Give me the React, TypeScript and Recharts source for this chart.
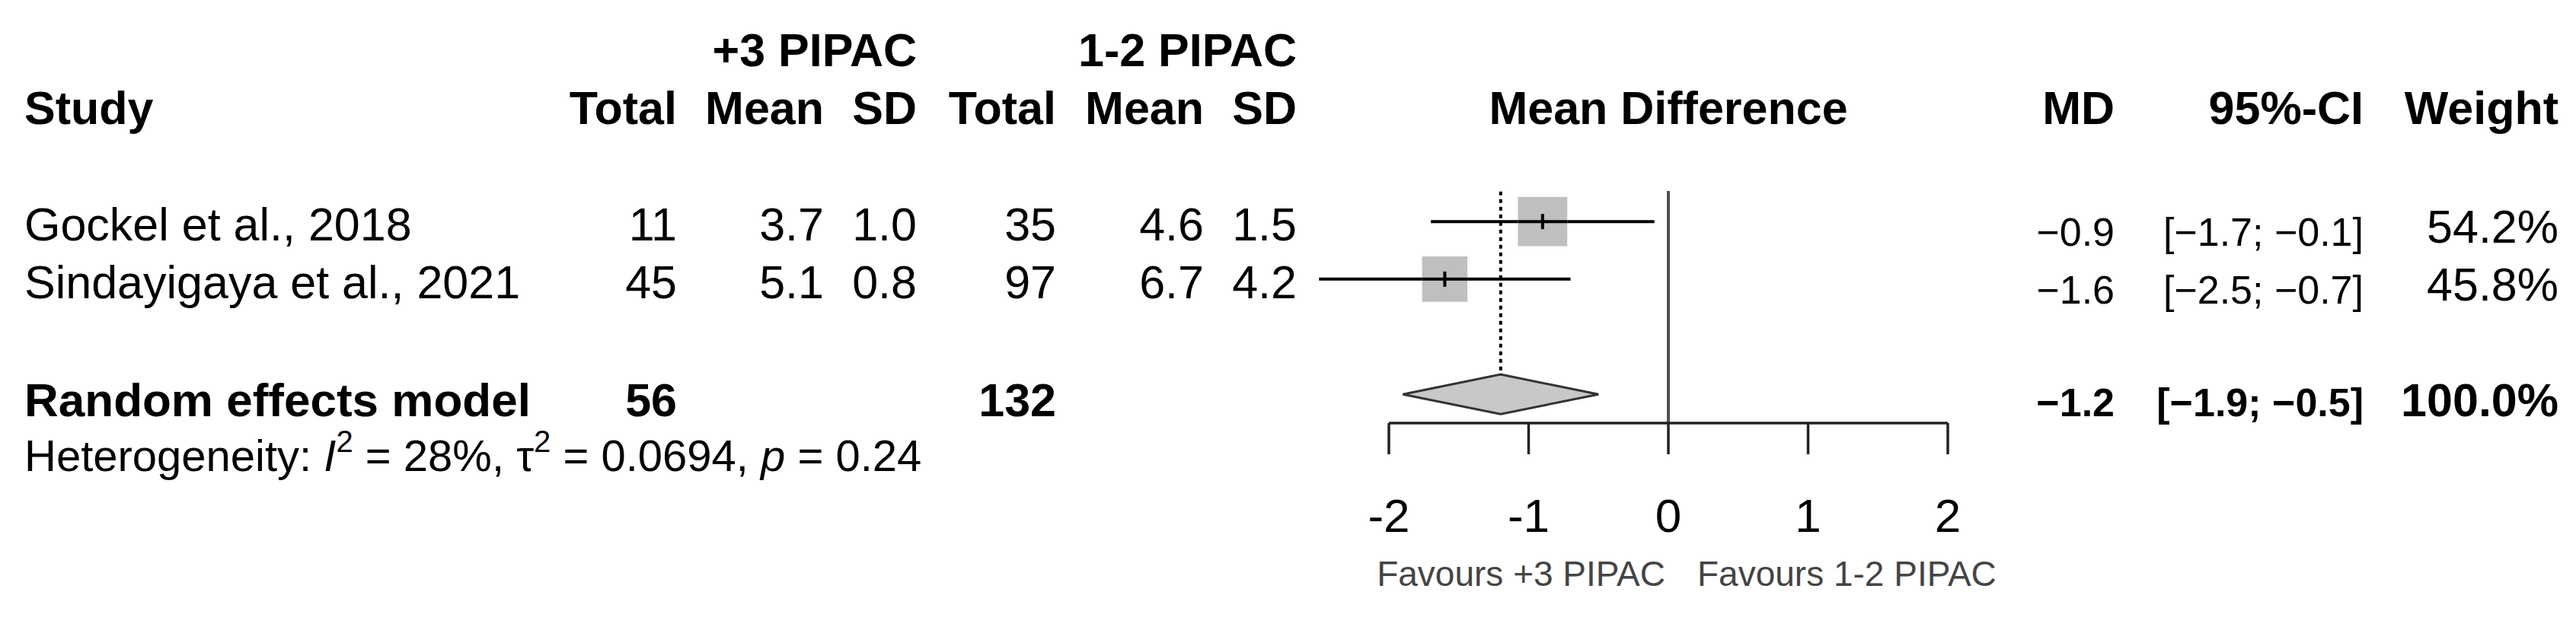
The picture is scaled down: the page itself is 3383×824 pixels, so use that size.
import { ScatterChart, Scatter, XAxis, YAxis, ReferenceLine, ReferenceArea } from "recharts"

// study data
const studies = ["Gockel et al., 2018", "Sindayigaya et al., 2021"]
const expTotal = [11, 45]
const expMean = [3.7, 5.1]
const expSD = [1.0, 0.8]
const ctrlTotal = [35, 97]
const ctrlMean = [4.6, 6.7]
const ctrlSD = [1.5, 4.2]
const md = [-0.9, -1.6]
const ciLow = [-1.7, -2.5]
const ciHigh = [-0.1, -0.7]
const weight = [54.2, 45.8]
const studyRows = [1, 2]

// random effects model
const pooledLabel = "Random effects model"
const pooledTotals = [56, 132]
const pooledMd = -1.2
const pooledCi = [-1.9, -0.5]
const pooledWeight = 100.0
const pooledRow = 4
const heterogeneity = { i2: "28%", tau2: "0.0694", p: "0.24" }

const xTicks = [-2, -1, 0, 1, 2]
const groupLabels = ["+3 PIPAC", "1-2 PIPAC"]
const favourLabels = ["Favours +3 PIPAC", "Favours 1-2 PIPAC"]

// layout
const W = 3367
const H = 808
const PLOT_LEFT = 1816
const PLOT_RIGHT = 2550
const PLOT_TOP = 207.5
const PLOT_BOTTOM = 548
const ROW_MAX = 4.5
const ROW_H = (PLOT_BOTTOM - PLOT_TOP) / ROW_MAX
const rowY = (r: number) => PLOT_TOP + r * ROW_H
const xPx = (v: number) => PLOT_LEFT + ((v - xTicks[0]) / (xTicks[4] - xTicks[0])) * (PLOT_RIGHT - PLOT_LEFT)
const FONT = "'Liberation Sans', Arial, Helvetica, sans-serif"
const SQUARE_K = 8.8

const fmt = (v: number) => v.toFixed(1).replace("-", "\u2212")

const scatterData = studies.map((s, i) => ({ name: s, x: md[i], y: studyRows[i], weight: weight[i] }))

function T({ x, y, anchor = "end", size = 61, bold = false, fill = "#000", children }: any) {
  return (
    <text x={x} y={y} textAnchor={anchor} fontSize={size} fontWeight={bold ? 700 : 400} fontFamily={FONT} fill={fill}>
      {children}
    </text>
  )
}

// grey box sized by weight; the CI stroke is repeated across it so it sits on top
function SquareMark(props: any) {
  const { cx, cy, payload } = props
  const s = SQUARE_K * Math.sqrt(payload.weight)
  return (
    <g>
      <rect x={cx - s / 2} y={cy - s / 2} width={s} height={s} fill="#bfbfbf" />
      <line x1={cx - s / 2} x2={cx + s / 2} y1={cy} y2={cy} stroke="#000" strokeWidth={4} />
      <line x1={cx} x2={cx} y1={cy - 10} y2={cy + 10} stroke="#000" strokeWidth={4} />
    </g>
  )
}

function Diamond(props: any) {
  const { x, y, width, height } = props
  const mx = x + (width * (pooledMd - pooledCi[0])) / (pooledCi[1] - pooledCi[0])
  const my = y + height / 2
  return (
    <polygon
      points={`${x},${my} ${mx},${y} ${x + width},${my} ${mx},${y + height}`}
      fill="#c8c8c8"
      stroke="#333"
      strokeWidth={3}
    />
  )
}

function AxisTick(props: any) {
  const { x, y, payload } = props
  return (
    <text x={x} y={y + 102} textAnchor="middle" fontSize={62} fontFamily={FONT} fill="#000">
      {payload.value}
    </text>
  )
}

const COL = {
  study: 24,
  eTotal: 881,
  eMean: 1074,
  eSD: 1196,
  cTotal: 1379,
  cMean: 1573,
  cSD: 1695,
  md: 2769,
  ci: 3096,
  w: 3352,
}

function Table() {
  const hb = rowY(-1) + 23
  return (
    <svg width={W} height={H} style={{ position: "absolute", left: 0, top: 0, pointerEvents: "none" }}>
      <T x={COL.eSD} y={rowY(-2) + 23} bold>{groupLabels[0]}</T>
      <T x={COL.cSD} y={rowY(-2) + 23} bold>{groupLabels[1]}</T>

      <T x={COL.study} y={hb} anchor="start" bold>Study</T>
      <T x={COL.eTotal} y={hb} bold>Total</T>
      <T x={COL.eMean} y={hb} bold>Mean</T>
      <T x={COL.eSD} y={hb} bold>SD</T>
      <T x={COL.cTotal} y={hb} bold>Total</T>
      <T x={COL.cMean} y={hb} bold>Mean</T>
      <T x={COL.cSD} y={hb} bold>SD</T>
      <T x={xPx(0)} y={hb} anchor="middle" bold>Mean Difference</T>
      <T x={COL.md} y={hb} bold>MD</T>
      <T x={COL.ci} y={hb} bold>95%-CI</T>
      <T x={COL.w} y={hb} bold>Weight</T>

      {studies.map((s, i) => {
        const b = rowY(studyRows[i]) + 25
        const rb = rowY(studyRows[i]) + 32
        return (
          <g key={s}>
            <T x={COL.study} y={b} anchor="start">{s}</T>
            <T x={COL.eTotal} y={b}>{expTotal[i]}</T>
            <T x={COL.eMean} y={b}>{expMean[i].toFixed(1)}</T>
            <T x={COL.eSD} y={b}>{expSD[i].toFixed(1)}</T>
            <T x={COL.cTotal} y={b}>{ctrlTotal[i]}</T>
            <T x={COL.cMean} y={b}>{ctrlMean[i].toFixed(1)}</T>
            <T x={COL.cSD} y={b}>{ctrlSD[i].toFixed(1)}</T>
            <T x={COL.md} y={rb} size={52}>{fmt(md[i])}</T>
            <T x={COL.ci} y={rb} size={52}>{`[${fmt(ciLow[i])}; ${fmt(ciHigh[i])}]`}</T>
            <T x={COL.w} y={rb - 4} size={61}>{`${weight[i].toFixed(1)}%`}</T>
          </g>
        )
      })}

      <T x={COL.study} y={rowY(pooledRow) + 29} anchor="start" bold size={62}>{pooledLabel}</T>
      <T x={COL.eTotal} y={rowY(pooledRow) + 29} bold>{pooledTotals[0]}</T>
      <T x={COL.cTotal} y={rowY(pooledRow) + 29} bold>{pooledTotals[1]}</T>
      <T x={COL.md} y={rowY(pooledRow) + 29} bold size={52}>{fmt(pooledMd)}</T>
      <T x={COL.ci} y={rowY(pooledRow) + 29} bold size={52}>{`[${fmt(pooledCi[0])}; ${fmt(pooledCi[1])}]`}</T>
      <T x={COL.w} y={rowY(pooledRow) + 29} bold size={61}>{`${pooledWeight.toFixed(1)}%`}</T>

      <text x={COL.study} y={rowY(5) + 25} fontSize={58} fontFamily={FONT} fill="#000">
        Heterogeneity: <tspan fontStyle="italic">I</tspan>
        <tspan dy={-25} fontSize={40}>2</tspan>
        <tspan dy={25}>{` = ${heterogeneity.i2}, \u03c4`}</tspan>
        <tspan dy={-25} fontSize={40}>2</tspan>
        <tspan dy={25}>{` = ${heterogeneity.tau2}, `}</tspan>
        <tspan fontStyle="italic">p</tspan>
        <tspan>{` = ${heterogeneity.p}`}</tspan>
      </text>

      <T x={xPx(0) - 4} y={762} size={46} fill="#444">{favourLabels[0]}</T>
      <T x={xPx(0) + 38} y={762} anchor="start" size={46} fill="#444">{favourLabels[1]}</T>
    </svg>
  )
}

export default function App() {
  return (
    <div style={{ position: "relative", width: W, height: H }}>
      <ScatterChart
        width={W}
        height={H}
        margin={{ top: PLOT_TOP, right: W - PLOT_RIGHT, bottom: 0, left: PLOT_LEFT }}
      >
        <XAxis
          type="number"
          dataKey="x"
          domain={[xTicks[0], xTicks[4]]}
          ticks={xTicks}
          interval={0}
          allowDataOverflow
          height={H - PLOT_BOTTOM}
          tickSize={41}
          tickMargin={0}
          axisLine={{ stroke: "#222", strokeWidth: 3.5 }}
          tickLine={{ stroke: "#222", strokeWidth: 3.5 }}
          tick={<AxisTick />}
        />
        <YAxis type="number" dataKey="y" domain={[0, ROW_MAX]} reversed allowDataOverflow hide />

        <ReferenceArea
          x1={pooledCi[0]}
          x2={pooledCi[1]}
          y1={pooledRow - 0.345}
          y2={pooledRow + 0.345}
          ifOverflow="visible"
          shape={<Diamond />}
        />
        <ReferenceLine
          segment={[{ x: 0, y: 0.47 }, { x: 0, y: ROW_MAX }]}
          stroke="#505050"
          strokeWidth={4}
          ifOverflow="visible"
        />
        <ReferenceLine
          segment={[{ x: pooledMd, y: 0.48 }, { x: pooledMd, y: pooledRow - 0.345 }]}
          stroke="#000"
          strokeWidth={4}
          strokeDasharray="5 5"
          ifOverflow="visible"
        />

        {studies.map((s, i) => (
          <ReferenceLine
            key={s}
            segment={[{ x: ciLow[i], y: studyRows[i] }, { x: ciHigh[i], y: studyRows[i] }]}
            stroke="#000"
            strokeWidth={4}
            ifOverflow="visible"
          />
        ))}

        <Scatter data={scatterData} shape={<SquareMark />} isAnimationActive={false} />
      </ScatterChart>
      <Table />
    </div>
  )
}
